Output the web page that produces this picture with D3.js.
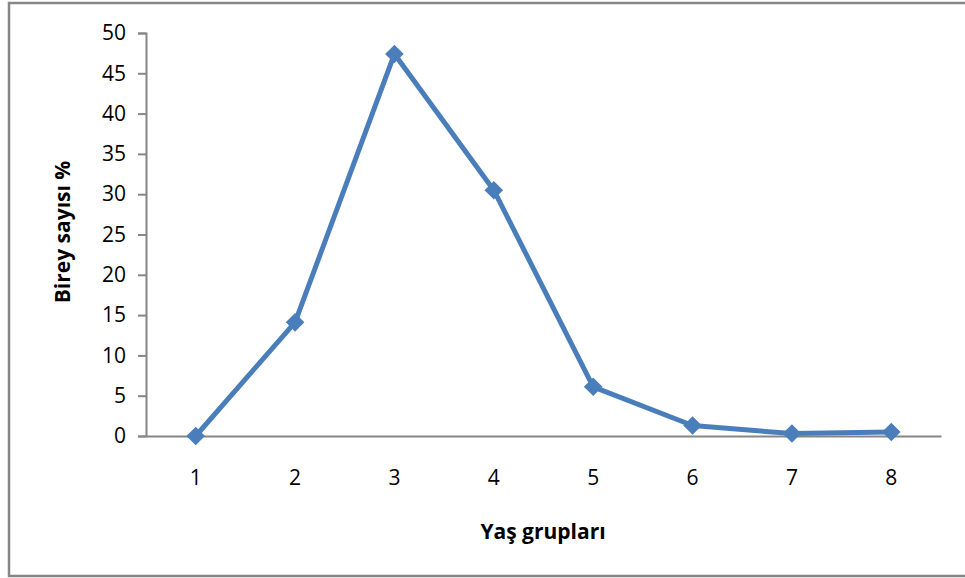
<!DOCTYPE html>
<html>
<head>
<meta charset="utf-8">
<script src="https://cdn.jsdelivr.net/npm/d3@7"></script>
<style>
  body { margin: 0; background: #fff; }
  svg { display: block; }
</style>
</head>
<body>
<svg id="chart" width="965" height="578"></svg>
<script>
var groups = ["1", "2", "3", "4", "5", "6", "7", "8"];
var percents = [0, 14.1, 47.4, 30.5, 6.1, 1.3, 0.3, 0.5];
var yTicks = [0, 5, 10, 15, 20, 25, 30, 35, 40, 45, 50];

var svg = d3.select('#chart');
var margin = { top: 33, left: 146, right: 24, bottom: 142 };
var width = 965 - margin.left - margin.right,
    height = 578 - margin.top - margin.bottom;
var axisColor = "#868686", lineColor = "#4A7EBB";

// outer frame
svg.append("rect")
    .attr("x", 9).attr("y", 3)
    .attr("width", 970).attr("height", 573)
    .attr("fill", "none")
    .attr("stroke", axisColor)
    .attr("stroke-width", 2.5);

var g = svg.append("g").attr("transform", "translate(" + margin.left + "," + margin.top + ")");

var x = d3.scaleBand().domain(groups).range([0, width]);
var y = d3.scaleLinear().domain([0, 50]).range([height, 0]);

var yAxis = g.append("g")
    .call(d3.axisLeft(y).tickValues(yTicks).tickSize(8).tickPadding(12));
yAxis.select(".domain").attr("stroke", axisColor).attr("stroke-width", 2);
yAxis.selectAll(".tick line").attr("stroke", axisColor).attr("stroke-width", 2);
yAxis.selectAll("text")
    .style("font-family", "'Open Sans'")
    .style("font-size", "21px")
    .attr("fill", "#000");

var xAxis = g.append("g")
    .attr("transform", "translate(0," + height + ")")
    .call(d3.axisBottom(x).tickSize(0).tickPadding(34));
xAxis.select(".domain").attr("stroke", axisColor).attr("stroke-width", 2);
xAxis.selectAll("text")
    .style("font-family", "'Open Sans'")
    .style("font-size", "21px")
    .attr("fill", "#000");

var line = d3.line()
    .x(function (d, i) { return x(groups[i]) + x.bandwidth() / 2; })
    .y(function (d) { return y(d); });

g.append("path")
    .datum(percents)
    .attr("d", line)
    .attr("fill", "none")
    .attr("stroke", lineColor)
    .attr("stroke-width", 5)
    .attr("stroke-linejoin", "round");

// diamond markers
g.selectAll(".marker")
    .data(percents)
    .enter()
    .append("path")
    .attr("class", "marker")
    .attr("d", d3.symbol().type(d3.symbolDiamond2).size(220))
    .attr("transform", function (d, i) {
        return "translate(" + (x(groups[i]) + x.bandwidth() / 2) + "," + y(d) + ")";
    })
    .attr("fill", lineColor);

// axis titles
svg.append("text")
    .attr("x", 543)
    .attr("y", 539)
    .attr("text-anchor", "middle")
    .style("font-family", "'Open Sans'")
    .style("font-weight", "bold")
    .style("font-size", "21px")
    .text("Yaş grupları");

svg.append("text")
    .attr("transform", "translate(70,232) rotate(-90)")
    .attr("text-anchor", "middle")
    .style("font-family", "'Open Sans'")
    .style("font-weight", "bold")
    .style("font-size", "21px")
    .text("Birey sayısı %");
</script>
</body>
</html>
